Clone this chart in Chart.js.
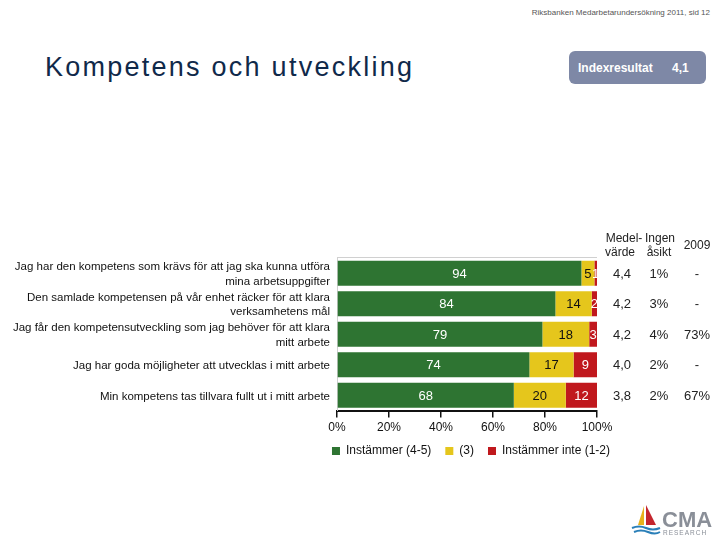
<!DOCTYPE html>
<html>
<head>
<meta charset="utf-8">
<script src="https://cdn.jsdelivr.net/npm/chart.js@4.4.0/dist/chart.umd.min.js"></script>
<style>
  html, body { margin: 0; padding: 0; background: #fff; }
  body { width: 720px; height: 540px; position: relative; overflow: hidden; font-family: "Liberation Sans", Arial, sans-serif; }
  #wrap { position: absolute; left: 0; top: 0; width: 720px; height: 540px; }
  .pageref { position: absolute; right: 10px; top: 8px; font-size: 8px; color: #555; }
  .title { position: absolute; left: 45px; top: 54px; font-size: 27px; line-height: 1; letter-spacing: 2.25px; color: #10294a; }
  .index { position: absolute; left: 569px; top: 51px; width: 137px; height: 33px; border-radius: 6px;
           background: #7e88a6; color: #fff; font-weight: bold; font-size: 12px; }
  .index span { position: absolute; top: 10px; }
  .logo { position: absolute; left: 630px; top: 503px; }
</style>
</head>
<body>
<div class="pageref">Riksbanken Medarbetarundersökning 2011, sid 12</div>
<div class="title">Kompetens och utveckling</div>
<div class="index"><span style="left:9px">Indexresultat</span><span style="left:103px">4,1</span></div>
<div id="wrap"><canvas id="chart" width="720" height="540"></canvas></div>
<svg class="logo" width="86" height="34" viewBox="0 0 86 34">
  <polygon points="14,3 8,22 14,22" fill="#e8b21c"/>
  <polygon points="16,2 16,22 26,22" fill="#c4262e"/>
  <path d="M2,25 Q9,22 16,25 T30,25" stroke="#2a7fb8" stroke-width="2" fill="none"/>
  <path d="M4,29 Q11,26 18,29 T30,29" stroke="#2a7fb8" stroke-width="2" fill="none"/>
  <text x="32" y="24" font-family="Liberation Sans, Arial, sans-serif" font-size="22" font-weight="bold" fill="#8a8f98">CMA</text>
  <text x="33" y="32" font-family="Liberation Sans, Arial, sans-serif" font-size="6.5" letter-spacing="1" fill="#8a8f98">RESEARCH</text>
</svg>
<script>
// Statements (top to bottom)
const statements = [
  ['Jag har den kompetens som krävs för att jag ska kunna utföra', 'mina arbetsuppgifter'],
  ['Den samlade kompetensen på vår enhet räcker för att klara', 'verksamhetens mål'],
  ['Jag får den kompetensutveckling som jag behöver för att klara', 'mitt arbete'],
  'Jag har goda möjligheter att utvecklas i mitt arbete',
  'Min kompetens tas tillvara fullt ut i mitt arbete'
];

// Shares in percent
const agree = [94, 84, 79, 74, 68];
const neutral = [5, 14, 18, 17, 20];
const disagree = [1, 2, 3, 9, 12];

// Side columns
const meanValues = ['4,4', '4,2', '4,2', '4,0', '3,8'];
const noOpinion = ['1%', '3%', '4%', '2%', '2%'];
const result2009 = ['-', '-', '73%', '-', '67%'];

const xTicks = [0, 20, 40, 60, 80, 100];

const FONT = '"Liberation Sans", Arial, sans-serif';
const labelColors = ['#ffffff', '#111111', '#ffffff'];

/**
 * Values written inside the bar segments
 */
const barLabels = {
  id: 'barLabels',
  afterDatasetsDraw(chart) {
    const ctx = chart.ctx;
    const area = chart.chartArea;
    ctx.save();
    ctx.beginPath();
    ctx.rect(area.left, area.top, area.right - area.left, area.bottom - area.top);
    ctx.clip();
    ctx.font = '13px ' + FONT;
    ctx.textAlign = 'center';
    ctx.textBaseline = 'middle';
    chart.data.datasets.forEach((ds, di) => {
      chart.getDatasetMeta(di).data.forEach((bar, i) => {
        ctx.fillStyle = labelColors[di];
        ctx.fillText(ds.data[i], (bar.x + bar.base) / 2, bar.y + 1);
      });
    });
    ctx.restore();
  }
};

/**
 * Center the legend under the plot instead of under the whole canvas
 */
const legendUnderPlot = {
  id: 'legendUnderPlot',
  afterLayout(chart) {
    const lg = chart.legend;
    const area = chart.chartArea;
    const dx = (area.left + area.right) / 2 - (lg.left + lg.right) / 2 + 4;
    const dy = -7;
    lg.left += dx; lg.right += dx;
    lg.top += dy; lg.bottom += dy;
  }
};

/**
 * Medelvärde / Ingen åsikt / 2009 columns to the right of the bars
 */
const sideColumns = {
  id: 'sideColumns',
  afterDraw(chart) {
    const ctx = chart.ctx;
    const y = chart.scales.y;
    const area = chart.chartArea;
    ctx.save();
    // light frame line on top of the plot
    ctx.strokeStyle = '#d0d0d0';
    ctx.lineWidth = 1;
    ctx.beginPath();
    ctx.moveTo(area.left, area.top - 0.5);
    ctx.lineTo(area.right, area.top - 0.5);
    ctx.stroke();

    ctx.fillStyle = '#222';
    ctx.textAlign = 'center';
    ctx.textBaseline = 'middle';
    ctx.font = '12px ' + FONT;
    ctx.fillText('Medel-', 624, 239);
    ctx.fillText('värde', 620, 253);
    ctx.fillText('Ingen', 660, 239);
    ctx.fillText('åsikt', 659, 253);
    ctx.fillText('2009', 697, 246);

    ctx.font = '13px ' + FONT;
    statements.forEach((s, i) => {
      const py = y.getPixelForValue(i) + 1;
      ctx.fillText(meanValues[i], 622, py);
      ctx.fillText(noOpinion[i], 659, py);
      ctx.fillText(result2009[i], 697, py);
    });
    ctx.restore();
  }
};

new Chart(document.getElementById('chart'), {
  type: 'bar',
  data: {
    labels: statements,
    datasets: [
      { label: 'Instämmer (4-5)', data: agree, backgroundColor: '#2e7432' },
      { label: '(3)', data: neutral, backgroundColor: '#e5c61c' },
      { label: 'Instämmer inte (1-2)', data: disagree, backgroundColor: '#c0181d' }
    ]
  },
  options: {
    indexAxis: 'y',
    responsive: false,
    animation: false,
    layout: { padding: { left: 0, right: 123, top: 258, bottom: 66 } },
    datasets: { bar: { categoryPercentage: 1, barPercentage: 0.82 } },
    scales: {
      x: {
        stacked: true,
        min: 0,
        max: 100,
        afterBuildTicks: (scale) => { scale.ticks = xTicks.map(v => ({ value: v })); },
        ticks: { callback: v => v + '%', color: '#111', font: { family: FONT, size: 12 }, padding: 3, maxRotation: 0 },
        grid: { drawOnChartArea: false, color: '#111', tickLength: 7, lineWidth: 1.5 },
        border: { color: '#111', width: 2 }
      },
      y: {
        stacked: true,
        afterFit: (scale) => { scale.width = 337; },
        ticks: { color: '#111', font: { family: FONT, size: 11.5, lineHeight: 1.25 }, padding: 7, autoSkip: false, labelOffset: 1 },
        grid: { display: false, drawTicks: false },
        border: { color: '#d0d0d0', width: 1 }
      }
    },
    plugins: {
      legend: {
        position: 'bottom',
        labels: { boxWidth: 8, boxHeight: 8, color: '#111', font: { family: FONT, size: 12 }, padding: 14 }
      },
      tooltip: { enabled: false }
    }
  },
  plugins: [barLabels, legendUnderPlot, sideColumns]
});
</script>
</body>
</html>
